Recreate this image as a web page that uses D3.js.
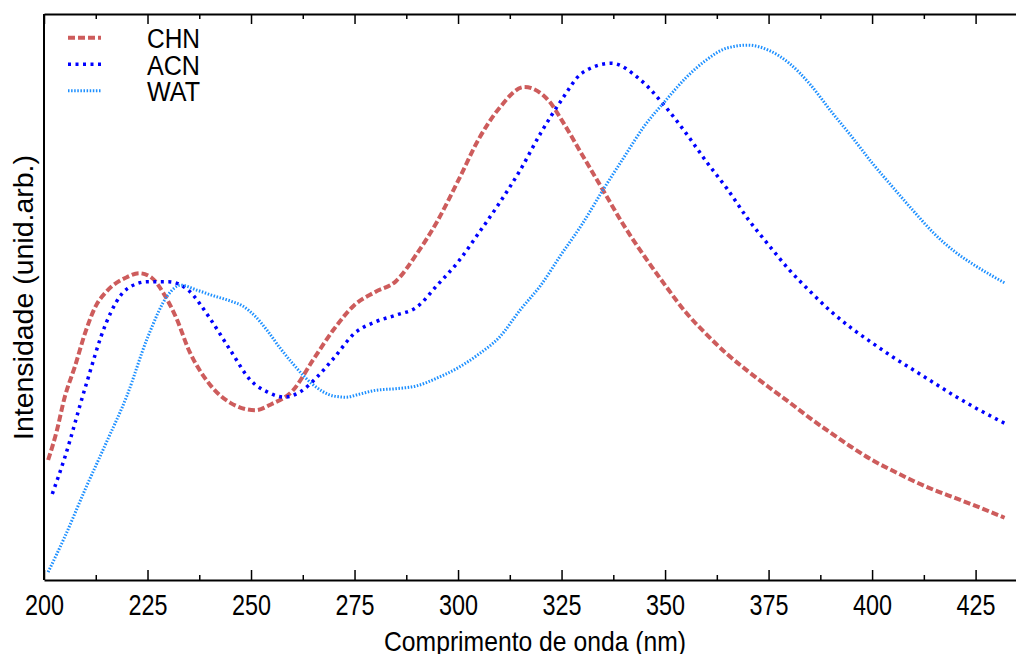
<!DOCTYPE html>
<html>
<head>
<meta charset="utf-8">
<script src="https://cdn.jsdelivr.net/npm/d3@7"></script>
<style>
  body { margin: 0; background: #fff; }
  svg text { font-family: "Liberation Sans", Arial, sans-serif; fill: #000; }
</style>
</head>
<body>
<script>
// wavelength grid (nm) for each series
var nmCHN = [201, 203, 205, 207.5, 210, 212.5, 215, 220, 223, 226, 229, 232, 235, 240, 245, 251, 255, 260, 265, 270, 275, 280, 285, 290, 295, 300, 305, 310, 316, 322, 325, 330, 335, 340, 345, 350, 355, 360, 365, 370, 375, 380, 385, 390, 395, 400, 405, 410, 415, 420, 425, 430, 432];
var chn = [21.2, 26.1, 32.3, 37.8, 43.8, 48.4, 50.9, 53.5, 54.2, 53.4, 50.5, 46.2, 40.6, 34.6, 31.3, 30.0, 31.1, 33.4, 38.9, 44.3, 48.6, 50.9, 52.8, 57.6, 63.4, 70.5, 77.9, 83.4, 87.1, 84.6, 81.3, 75.1, 68.9, 62.7, 57.2, 52.1, 47.3, 43.4, 39.9, 36.9, 34.1, 31.4, 28.6, 26.0, 23.5, 21.2, 19.3, 17.5, 15.9, 14.5, 13.1, 11.6, 11.0];

var nmACN = [202, 205, 210, 215, 220, 225, 230, 235, 240, 245, 250, 254, 258, 262, 266, 270, 275, 280, 285, 290, 295, 300, 305, 310, 315, 320, 325, 330, 337, 344, 350, 355, 360, 365, 370, 375, 380, 385, 390, 395, 400, 405, 410, 415, 420, 425, 432];
var acn = [15.2, 21.6, 34.1, 45.4, 51.4, 52.7, 52.7, 51.1, 46.3, 40.6, 35.2, 33.2, 32.3, 33.3, 35.9, 39.2, 43.6, 45.6, 46.8, 48.2, 52.1, 56.2, 61.3, 66.6, 72.4, 79.0, 84.8, 89.6, 91.3, 88.4, 83.7, 79.0, 73.9, 69.1, 63.8, 59.2, 54.8, 51.0, 47.5, 44.5, 41.9, 39.4, 37.1, 34.8, 32.5, 30.4, 27.7];

var nmWAT = [201, 205, 210, 215, 220, 225, 230, 233, 237, 241, 245, 248, 251, 254, 257, 260, 265, 270, 273, 276, 280, 285, 290, 295, 300, 305, 310, 315, 320, 325, 330, 335, 340, 345, 350, 355, 360, 365, 370, 375, 380, 385, 390, 395, 400, 405, 410, 415, 420, 425, 432];
var wat = [1.4, 7.6, 16.1, 24.2, 32.5, 42.8, 50.4, 52.1, 51.2, 50.2, 49.3, 48.4, 46.6, 44.0, 41.0, 38.3, 34.5, 32.5, 32.3, 32.8, 33.5, 33.8, 34.3, 35.7, 37.5, 39.9, 42.9, 47.7, 52.1, 57.6, 62.9, 68.9, 74.6, 80.2, 84.6, 88.7, 91.9, 94.0, 94.5, 93.6, 91.3, 87.6, 82.9, 78.4, 73.7, 69.4, 65.2, 61.2, 58.0, 55.5, 52.5];

var seriesNames = ["CHN", "ACN", "WAT"];
var xTicks = [200, 225, 250, 275, 300, 325, 350, 375, 400, 425];
var xMinor = [212.5, 237.5, 262.5, 287.5, 312.5, 337.5, 362.5, 387.5, 412.5];

var svgWidth = 1016;
var svgHeight = 654;

var svg = d3.select("body").append("svg")
  .attr("width", svgWidth)
  .attr("height", svgHeight);

var x = d3.scaleLinear().domain([200, 435]).range([44, 1017]);
var y = d3.scaleLinear().domain([0, 100]).range([580, 14]);

var series = [
  { name: seriesNames[0], nm: nmCHN, v: chn, color: "#cd5c5c", dash: "7,3", width: 4 },
  { name: seriesNames[1], nm: nmACN, v: acn, color: "#0000ff", dash: "3,4.5", width: 3.5 },
  { name: seriesNames[2], nm: nmWAT, v: wat, color: "#1e90ff", dash: "1.5,1.6", width: 3 }
];

var line = d3.line()
  .x(d => x(d[0]))
  .y(d => y(d[1]))
  .curve(d3.curveMonotoneX);

// curves
series.forEach(function(s) {
  var pts = s.nm.map((n, i) => [n, s.v[i]]);
  svg.append("path")
    .datum(pts)
    .attr("fill", "none")
    .attr("stroke", s.color)
    .attr("stroke-width", s.width)
    .attr("stroke-dasharray", s.dash)
    .attr("d", line);
});

// frame
svg.append("line").attr("x1", 44).attr("x2", 44).attr("y1", 14).attr("y2", 580)
  .attr("stroke", "#000").attr("stroke-width", 2);

// bottom axis, major + minor ticks pointing inward
var bottomAxis = d3.axisBottom(x).tickValues(xTicks).tickSizeInner(-10).tickSizeOuter(0).tickPadding(14);
var gB = svg.append("g").attr("transform", "translate(0,580)").call(bottomAxis);
gB.select(".domain").attr("stroke-width", 2);
gB.selectAll(".tick line").attr("stroke-width", 1.5);
gB.selectAll(".tick text")
  .style("font-size", "29px")
  .attr("textLength", 39)
  .attr("lengthAdjust", "spacingAndGlyphs");

var gBm = svg.append("g").attr("transform", "translate(0,580)")
  .call(d3.axisBottom(x).tickValues(xMinor).tickSizeInner(-5).tickSizeOuter(0).tickFormat(""));
gBm.select(".domain").remove();
gBm.selectAll(".tick line").attr("stroke-width", 1.5);

var gT = svg.append("g").attr("transform", "translate(0,14)")
  .call(d3.axisTop(x).tickValues(xTicks).tickSizeInner(-10).tickSizeOuter(0).tickFormat(""));
gT.select(".domain").attr("stroke-width", 2);
gT.selectAll(".tick line").attr("stroke-width", 1.5);

var gTm = svg.append("g").attr("transform", "translate(0,14)")
  .call(d3.axisTop(x).tickValues(xMinor).tickSizeInner(-5).tickSizeOuter(0).tickFormat(""));
gTm.select(".domain").remove();
gTm.selectAll(".tick line").attr("stroke-width", 1.5);

// axis titles
svg.append("text")
  .attr("x", 535)
  .attr("y", 651)
  .attr("text-anchor", "middle")
  .style("font-size", "28px")
  .attr("textLength", 302)
  .attr("lengthAdjust", "spacingAndGlyphs")
  .text("Comprimento de onda (nm)");

svg.append("text")
  .attr("transform", "translate(33,297.5)rotate(-90)")
  .attr("text-anchor", "middle")
  .style("font-size", "27px")
  .attr("textLength", 285)
  .attr("lengthAdjust", "spacingAndGlyphs")
  .text("Intensidade (unid.arb.)");

// legend
var legend = svg.append("g");
series.forEach(function(s, i) {
  var ly = 37.7 + i * 26.5;
  legend.append("line")
    .attr("x1", 68).attr("x2", 101)
    .attr("y1", ly).attr("y2", ly)
    .attr("stroke", s.color)
    .attr("stroke-width", s.width)
    .attr("stroke-dasharray", s.dash);
  legend.append("text")
    .attr("x", 147)
    .attr("y", ly + 10.3)
    .style("font-size", "27px")
    .attr("textLength", 53)
    .attr("lengthAdjust", "spacingAndGlyphs")
    .text(s.name);
});
</script>
</body>
</html>
